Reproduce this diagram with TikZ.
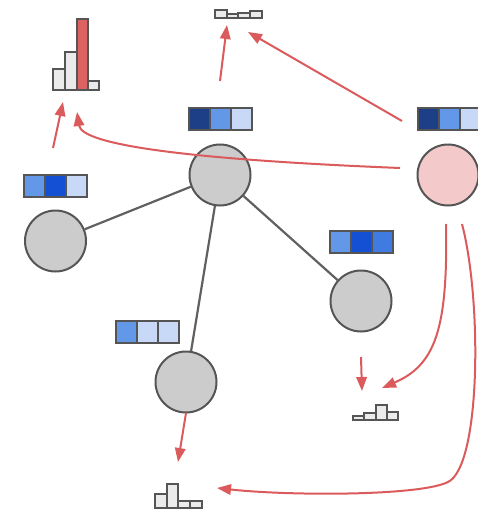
\documentclass[tikz,border=0pt]{standalone}
\usetikzlibrary{arrows.meta}
\definecolor{edgegray}{HTML}{606060}
\definecolor{outline}{HTML}{555555}
\definecolor{nodegray}{HTML}{CCCCCC}
\definecolor{nodepink}{HTML}{F3C9CA}
\definecolor{msgred}{HTML}{DB5A5C}
\definecolor{barfill}{HTML}{EBEBEB}
\definecolor{barred}{HTML}{DF6262}
\definecolor{navy}{HTML}{1C3F87}
\definecolor{midblue}{HTML}{6397E8}
\definecolor{paleblue}{HTML}{C8D9F7}
\definecolor{brightblue}{HTML}{1450D4}
\definecolor{skyblue}{HTML}{3F7BE0}
\tikzset{
  vertex/.style={circle, minimum size=61pt, inner sep=0pt, draw=outline, line width=2pt, fill=nodegray},
  cell/.style={rectangle, minimum width=21pt, minimum height=22pt, inner sep=0pt, draw=outline, line width=1.7pt, anchor=north west},
  link/.style={draw=edgegray, line width=2.2pt},
  msg/.style={draw=msgred, line width=2pt, -{Triangle[length=14pt,width=10.5pt]}},
  bar/.style={draw=outline, line width=1.7pt, fill=barfill},
}
\begin{document}
\begin{tikzpicture}[x=1pt, y=-1pt]
\useasboundingbox (0,0) rectangle (477,511);

% graph vertices
\node[vertex] (c) at (220,175) {};
\node[vertex] (l) at (55.5,241) {};
\node[vertex] (r) at (361,301) {};
\node[vertex] (b) at (186,382) {};
\node[vertex, fill=nodepink] (p) at (448,175) {};

% graph edges
\draw[link] (c) -- (l);
\draw[link] (c) -- (r);
\draw[link] (c) -- (b);

% feature vectors
\node[cell, fill=navy]       (c1) at (188,107) {};
\node[cell, fill=midblue]    (c2) at (209,107) {};
\node[cell, fill=paleblue]   (c3) at (230,107) {};

\node[cell, fill=midblue]    (l1) at (23,174) {};
\node[cell, fill=brightblue] (l2) at (44,174) {};
\node[cell, fill=paleblue]   (l3) at (65,174) {};

\node[cell, fill=navy]       (p1) at (417,107) {};
\node[cell, fill=midblue]    (p2) at (438,107) {};
\node[cell, fill=paleblue]   (p3) at (459,107) {};

\node[cell, fill=midblue]    (r1) at (329,230) {};
\node[cell, fill=brightblue] (r2) at (350,230) {};
\node[cell, fill=skyblue]    (r3) at (371,230) {};

\node[cell, fill=midblue]    (b1) at (115,320) {};
\node[cell, fill=paleblue]   (b2) at (136,320) {};
\node[cell, fill=paleblue]   (b3) at (157,320) {};

% histograms
\draw[bar] (53,69) rectangle (65,90);
\draw[bar] (65,52) rectangle (77,90);
\draw[bar, fill=barred] (77,19) rectangle (88,90);
\draw[bar] (88,81) rectangle (99,90);

\draw[bar] (215,10) rectangle (227,18);
\draw[bar] (227,14) rectangle (238,18);
\draw[bar] (238,13) rectangle (250,18);
\draw[bar] (250,11) rectangle (262,18);

\draw[bar] (353,416) rectangle (364,420);
\draw[bar] (364,413) rectangle (376,420);
\draw[bar] (376,405) rectangle (387,420);
\draw[bar] (387,412) rectangle (398,420);

\draw[bar] (155,494) rectangle (167,508);
\draw[bar] (167,484) rectangle (178,508);
\draw[bar] (178,501) rectangle (190,508);
\draw[bar] (190,501) rectangle (202,508);

% arrow end points
\coordinate (lsrc) at (53,148);
\coordinate (hbig) at (63,102);
\coordinate (hbig2) at (77,112);
\coordinate (csrc) at (220,81);
\coordinate (htop) at (227,25);
\coordinate (htop2) at (248,32);
\coordinate (psrcA) at (402,121);
\coordinate (psrcB) at (400,168);
\coordinate (psrcC) at (446,224);
\coordinate (psrcD) at (462,224);
\coordinate (rsrc) at (361,357);
\coordinate (hright) at (362,391);
\coordinate (hright2) at (382,388);
\coordinate (bsrc) at (186,413);
\coordinate (hbot) at (178,462);
\coordinate (hbot2) at (217,488);

% messages
\draw[msg] (lsrc) -- (hbig);
\draw[msg] (csrc) -- (htop);
\draw[msg] (psrcA) -- (htop2);
\draw[msg] (psrcB) .. controls (200,160) and (82,146) .. (hbig2);
\draw[msg] (psrcC) .. controls (448,330) and (435,365) .. (hright2);
\draw[msg] (psrcD) .. controls (482,300) and (481,466) .. (448,482)
                   .. controls (420,496) and (290,496) .. (hbot2);
\draw[msg] (rsrc) -- (hright);
\draw[msg] (bsrc) -- (hbot);
\end{tikzpicture}
\end{document}
